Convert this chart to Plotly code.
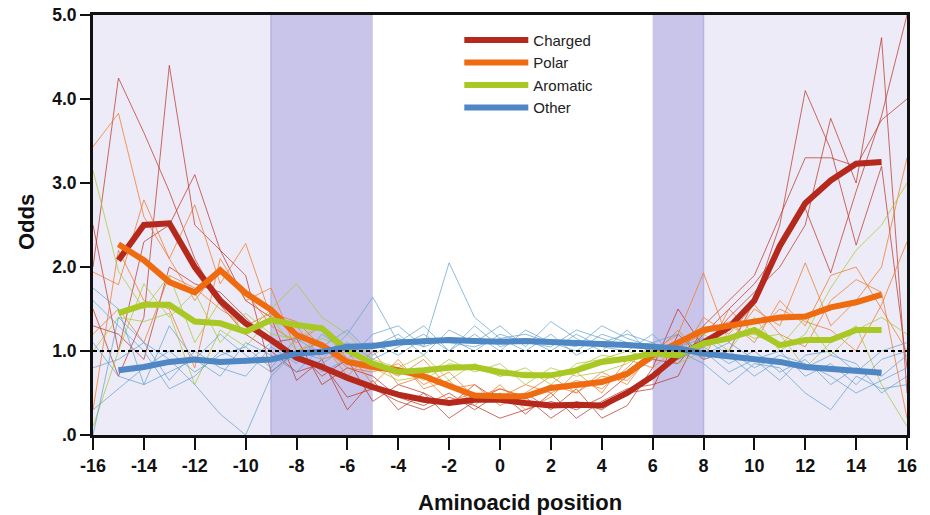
import plotly.graph_objects as go

# ---------------- data ----------------
pos_thin = list(range(-16, 17))          # thin per-residue profiles
pos_mean = list(range(-15, 16))          # thick group means

charged = [2.08, 2.50, 2.52, 2.00, 1.60, 1.33, 1.13, 0.92, 0.81, 0.68, 0.57,
           0.48, 0.42, 0.38, 0.42, 0.42, 0.38, 0.35, 0.36, 0.35, 0.50,
           0.70, 0.95, 1.10, 1.28, 1.60, 2.25, 2.76, 3.03, 3.23, 3.25]
polar = [2.27, 2.08, 1.82, 1.70, 1.96, 1.69, 1.49, 1.19, 1.07, 0.87, 0.81,
         0.77, 0.70, 0.58, 0.47, 0.46, 0.46, 0.56, 0.60, 0.63, 0.73,
         0.95, 1.10, 1.25, 1.30, 1.35, 1.40, 1.41, 1.52, 1.58, 1.67]
aromatic = [1.45, 1.55, 1.55, 1.35, 1.33, 1.23, 1.37, 1.31, 1.27, 1.01, 0.85,
            0.75, 0.77, 0.80, 0.81, 0.75, 0.71, 0.71, 0.77, 0.87, 0.91,
            0.97, 0.95, 1.09, 1.15, 1.25, 1.07, 1.13, 1.13, 1.25, 1.25]
other = [0.77, 0.81, 0.87, 0.90, 0.87, 0.88, 0.90, 0.97, 0.99, 1.05, 1.06,
         1.10, 1.12, 1.13, 1.12, 1.11, 1.12, 1.11, 1.10, 1.09, 1.07,
         1.05, 1.03, 0.97, 0.94, 0.90, 0.87, 0.81, 0.79, 0.77, 0.74]

charged_thin = [
    [2.0, 4.25, 3.6, 2.9, 2.1, 1.55, 1.2, 1.0, 0.75, 0.85, 0.45, 0.55, 0.4, 0.3, 0.45, 0.35, 0.2,
     0.3, 0.4, 0.3, 0.45, 0.7, 0.9, 0.85, 1.2, 1.5, 1.8, 2.2, 2.7, 1.93, 2.9, 3.8, 5.0],
    [1.5, 0.7, 1.4, 4.4, 2.5, 2.2, 1.9, 0.75, 1.0, 0.7, 0.9, 0.4, 0.6, 0.5, 0.2, 0.4, 0.55,
     0.45, 0.2, 0.4, 0.3, 0.5, 0.55, 1.2, 0.9, 1.0, 1.6, 2.5, 4.1, 3.4, 2.26, 3.2, 0.8],
    [2.5, 1.0, 2.3, 2.5, 3.1, 2.2, 1.6, 1.4, 0.65, 0.9, 0.3, 0.65, 0.3, 0.5, 0.35, 0.6, 0.4,
     0.5, 0.3, 0.55, 0.2, 0.35, 0.8, 1.5, 1.05, 1.4, 1.7, 2.0, 2.5, 3.77, 3.0, 4.73, 0.5],
    [1.3, 1.2, 0.9, 2.0, 1.8, 1.7, 1.4, 1.1, 1.15, 0.6, 0.8, 0.7, 0.45, 0.35, 0.5, 0.3, 0.5,
     0.25, 0.5, 0.2, 0.4, 0.55, 0.6, 0.7, 1.3, 1.6, 1.9, 2.6, 3.3, 3.3, 3.2, 3.75, 4.0],
]
polar_thin = [
    [3.43, 3.83, 2.6, 2.1, 1.6, 2.0, 1.7, 1.3, 1.1, 1.3, 0.9, 0.85, 0.7, 0.9, 0.55, 0.6, 0.35,
     0.5, 0.7, 0.5, 0.75, 0.6, 1.0, 1.2, 1.93, 1.1, 1.5, 1.3, 2.05, 1.3, 1.6, 2.0, 3.3],
    [1.94, 1.79, 2.8, 2.1, 2.74, 1.8, 2.28, 1.4, 1.3, 0.9, 1.0, 0.6, 0.9, 0.55, 0.65, 0.35, 0.6,
     0.3, 0.45, 0.75, 0.5, 0.9, 0.8, 1.05, 1.2, 1.35, 1.1, 1.6, 1.3, 1.9, 2.0, 1.5, 1.0],
    [0.3, 2.2, 1.6, 1.5, 0.8, 2.1, 1.6, 1.75, 1.0, 1.1, 0.7, 1.0, 0.6, 0.7, 0.4, 0.5, 0.45,
     0.6, 0.5, 0.65, 0.55, 0.8, 1.1, 0.9, 1.4, 1.2, 1.55, 1.2, 1.05, 1.6, 1.85, 1.7, 0.2],
    [1.2, 1.5, 1.1, 1.9, 1.75, 1.5, 1.3, 1.45, 1.35, 1.05, 0.8, 0.75, 0.85, 0.6, 0.75, 0.45, 0.55,
     0.45, 0.6, 0.5, 0.7, 0.65, 0.95, 1.25, 0.9, 1.5, 1.2, 1.5, 1.35, 1.25, 1.0, 1.55, 2.3],
]
aromatic_thin = [
    [3.15, 1.95, 1.5, 1.9, 1.1, 1.6, 1.2, 1.5, 1.8, 1.4, 1.2, 0.9, 0.8, 0.95, 0.65, 0.85, 0.7,
     0.8, 0.6, 0.85, 0.9, 1.0, 0.9, 1.1, 1.2, 1.0, 1.4, 1.0, 1.2, 1.75, 2.2, 2.5, 3.0],
    [0.1, 1.0, 1.8, 1.4, 1.7, 1.1, 1.45, 1.2, 1.15, 1.3, 0.85, 0.8, 0.65, 0.7, 0.9, 0.75, 0.85,
     0.6, 0.8, 0.7, 0.75, 0.85, 1.05, 0.85, 1.0, 1.3, 1.15, 1.2, 0.8, 1.1, 1.3, 0.6, 0.1],
    [1.0, 1.4, 1.35, 1.45, 0.6, 1.25, 1.05, 1.4, 1.0, 1.15, 1.05, 0.85, 0.8, 0.65, 0.85, 0.8, 0.7,
     0.75, 0.7, 0.8, 0.95, 0.9, 0.95, 0.9, 1.05, 1.15, 1.2, 1.05, 1.4, 0.95, 1.25, 1.4, 1.2],
]
other_thin = [
    [0.0, 1.4, 1.1, 0.9, 0.6, 0.25, 0.0, 0.7, 1.0, 0.9, 1.2, 1.64, 1.1, 1.3, 1.0, 1.2, 1.0,
     1.25, 1.1, 1.05, 1.3, 1.15, 1.05, 1.0, 0.85, 0.6, 0.85, 0.8, 0.5, 0.3, 0.7, 0.55, 0.6],
    [1.75, 1.5, 0.6, 0.75, 0.9, 1.2, 0.95, 0.75, 1.0, 0.75, 0.9, 1.2, 1.3, 1.05, 2.05, 1.4, 1.15,
     1.0, 1.2, 0.95, 1.1, 1.2, 1.1, 0.95, 1.0, 0.75, 0.9, 1.0, 0.7, 0.85, 0.6, 0.9, 1.0],
    [0.8, 0.9, 1.1, 0.65, 1.0, 0.8, 0.7, 1.05, 0.85, 1.2, 1.0, 1.05, 1.2, 0.95, 1.25, 1.1, 1.3,
     1.05, 1.35, 1.15, 1.0, 1.25, 0.95, 1.1, 0.9, 1.0, 0.8, 0.95, 0.85, 0.7, 0.5, 0.65, 0.8],
    [0.3, 0.55, 0.8, 1.0, 0.75, 0.95, 1.05, 0.8, 1.15, 0.95, 1.1, 0.9, 1.05, 1.2, 1.0, 1.3, 1.05,
     1.15, 1.0, 1.2, 1.05, 1.0, 1.2, 0.9, 1.05, 0.85, 1.0, 0.75, 0.9, 0.6, 0.8, 0.7, 0.95],
    [1.1, 0.7, 0.6, 1.3, 0.9, 0.7, 1.1, 0.95, 0.75, 1.05, 1.25, 0.95, 1.15, 1.05, 1.15, 1.0, 1.2,
     1.1, 1.05, 1.25, 1.15, 1.05, 1.1, 1.2, 0.95, 1.1, 0.9, 0.65, 0.95, 1.0, 0.75, 1.0, 1.1],
    [1.6, 1.3, 1.0, 0.55, 0.7, 1.0, 0.85, 1.1, 0.95, 0.85, 1.05, 1.1, 0.95, 1.15, 1.1, 1.05, 1.15,
     1.2, 1.1, 1.0, 1.2, 1.1, 1.0, 1.05, 1.15, 0.95, 0.7, 0.9, 0.8, 0.95, 0.85, 0.5, 0.7],
]

x_ticks = list(range(-16, 17, 2))
x_tick_labels = [str(v) for v in x_ticks]          # plain hyphen-minus as in the original
y_ticks = [0, 1, 2, 3, 4, 5]
y_tick_labels = [".0", "1.0", "2.0", "3.0", "4.0", "5.0"]
x_title = "Aminoacid position"
y_title = "Odds"

# ---------------- styling ----------------
groups = [
    ("Charged", charged, charged_thin, "#B5281C", "rgba(185,45,30,0.7)"),
    ("Polar", polar, polar_thin, "#EE6B10", "rgba(240,120,40,0.75)"),
    ("Aromatic", aromatic, aromatic_thin, "#A9C823", "rgba(170,200,50,0.75)"),
    ("Other", other, other_thin, "#4F86C4", "rgba(95,160,205,0.7)"),
]

fig = go.Figure()

for name, mean, thin, col, tcol in groups:
    for ys in thin:
        fig.add_trace(go.Scatter(x=pos_thin, y=ys, mode="lines",
                                 line=dict(color=tcol, width=1),
                                 showlegend=False, hoverinfo="skip"))

for name, mean, thin, col, tcol in groups:
    fig.add_trace(go.Scatter(x=pos_mean, y=mean, mode="lines", name=name,
                             line=dict(color=col, width=6)))

fig.add_trace(go.Scatter(x=[-16, 16], y=[1, 1], mode="lines",
                         line=dict(color="black", width=2, dash="4px,3px"),
                         showlegend=False, hoverinfo="skip"))

light = "#EDEBF8"
dark = "#C9C5EA"
shapes = [
    dict(type="rect", xref="x", yref="y", x0=-16, x1=-9, y0=0, y1=5, fillcolor=light, line_width=0, layer="below"),
    dict(type="rect", xref="x", yref="y", x0=-9, x1=-5, y0=0, y1=5, fillcolor=dark, line_width=0, layer="below"),
    dict(type="rect", xref="x", yref="y", x0=6, x1=8, y0=0, y1=5, fillcolor=dark, line_width=0, layer="below"),
    dict(type="rect", xref="x", yref="y", x0=8, x1=16, y0=0, y1=5, fillcolor=light, line_width=0, layer="below"),
    dict(type="line", xref="x", yref="y", x0=-9, x1=-9, y0=0, y1=5, line=dict(color="#B7B2E2", width=1.5), layer="below"),
    dict(type="line", xref="x", yref="y", x0=8, x1=8, y0=0, y1=5, line=dict(color="#B7B2E2", width=1.5), layer="below"),
]

tickfont = dict(family="Liberation Sans", size=18, color="#111111", weight="bold")
ytickfont = dict(family="Liberation Sans", size=17.5, color="#111111", weight="bold")
titlefont = dict(family="Liberation Sans", size=22, color="#111111", weight="bold")

annotations = [
    dict(text=x_title, xref="paper", yref="paper", x=0.5246, y=-0.16,
         xanchor="center", yanchor="middle", showarrow=False, font=titlefont),
    dict(text=y_title, xref="paper", yref="paper", x=-0.0823, y=0.507,
         xanchor="center", yanchor="middle", textangle=-90, showarrow=False, font=titlefont),
]

fig.update_layout(
    width=930, height=515,
    margin=dict(l=93, r=23, t=15, b=80),
    paper_bgcolor="white", plot_bgcolor="white",
    shapes=shapes, annotations=annotations,
    showlegend=True,
    legend=dict(x=0.450, y=0.979, xanchor="left", yanchor="top",
                bgcolor="rgba(0,0,0,0)", borderwidth=0,
                font=dict(family="Liberation Sans", size=15, color="#222222"),
                tracegroupgap=0, itemwidth=64),
    xaxis=dict(range=[-16, 16], tickmode="array", tickvals=x_ticks, ticktext=x_tick_labels,
               ticks="outside", ticklen=12, tickwidth=2, tickcolor="#111111",
               showline=True, linewidth=3, linecolor="#111111", mirror=True,
               showgrid=False, zeroline=False, tickfont=tickfont, automargin=False,
               ticklabeloverflow="allow"),
    yaxis=dict(range=[0, 5], tickmode="array", tickvals=y_ticks, ticktext=y_tick_labels,
               ticks="outside", ticklen=10, tickwidth=2, tickcolor="#111111",
               showline=True, linewidth=3, linecolor="#111111", mirror=True,
               showgrid=False, zeroline=False, tickfont=ytickfont, automargin=False,
               ticklabeloverflow="allow"),
)

# remove the browser's default 8px page margin so the figure fills the window
fig.write_html("out.html",
               config={"displayModeBar": False},
               post_script="document.body.style.margin='0';document.body.style.overflow='hidden';")
